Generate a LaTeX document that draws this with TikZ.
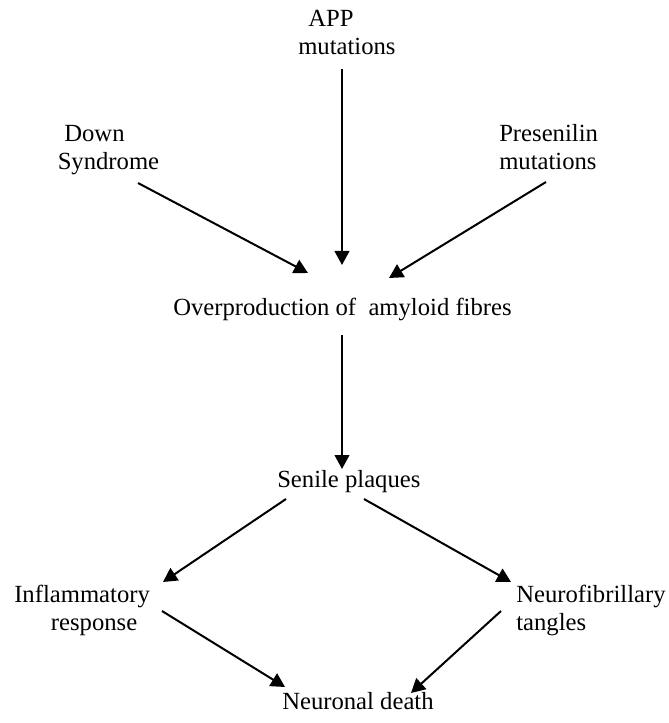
\documentclass[tikz,border=0pt]{standalone}
\usepackage{fontspec}
\setmainfont{Liberation Serif}
\usetikzlibrary{arrows.meta}
\begin{document}
\begin{tikzpicture}[x=0.75pt,y=-0.75pt,
  lbl/.style={inner sep=0pt, align=left, anchor=base west,
    font=\fontsize{18.5pt}{21pt}\selectfont},
  arr/.style={line width=1.5pt, -{Triangle[length=10.5pt,width=11pt]}}]
\useasboundingbox (0,0) rectangle (668,723);

% text nodes (anchored at left edge, baseline of last line)
\node[lbl] (app)   at (298,55)  {\hspace*{7.5pt}APP\\mutations};
\node[lbl] (down)  at (57.5,170) {\hspace*{4.9pt}Down\\Syndrome};
\node[lbl] (pres)  at (499,170) {Presenilin\\mutations};
\node[lbl] (amy)   at (173,315) {Overproduction of\ \ amyloid fibres};
\node[lbl] (sen)   at (277,487) {Senile plaques};
\node[lbl] (infl)  at (14,630)  {Inflammatory\\\hspace*{27.5pt}response};
\node[lbl] (neuro) at (516,630) {Neurofibrillary\\tangles};
\node[lbl] (death) at (282,709) {Neuronal death};

% connector end points
\coordinate (app-o)   at (342,69);
\coordinate (amy-i1)  at (342,265);
\coordinate (down-o)  at (138,183);
\coordinate (amy-i2)  at (308,273);
\coordinate (pres-o)  at (546,182);
\coordinate (amy-i3)  at (389,278);
\coordinate (amy-o)   at (342,335);
\coordinate (sen-i)   at (342,469);
\coordinate (sen-o1)  at (286,499);
\coordinate (infl-i)  at (163,582);
\coordinate (sen-o2)  at (364,499);
\coordinate (neuro-i) at (511,582);
\coordinate (infl-o)  at (162,611);
\coordinate (death-i1) at (285,687);
\coordinate (neuro-o) at (501,611);
\coordinate (death-i2) at (411,693);

\draw[arr] (app-o) -- (amy-i1);
\draw[arr] (down-o) -- (amy-i2);
\draw[arr] (pres-o) -- (amy-i3);
\draw[arr] (amy-o) -- (sen-i);
\draw[arr] (sen-o1) -- (infl-i);
\draw[arr] (sen-o2) -- (neuro-i);
\draw[arr] (infl-o) -- (death-i1);
\draw[arr] (neuro-o) -- (death-i2);
\end{tikzpicture}
\end{document}
